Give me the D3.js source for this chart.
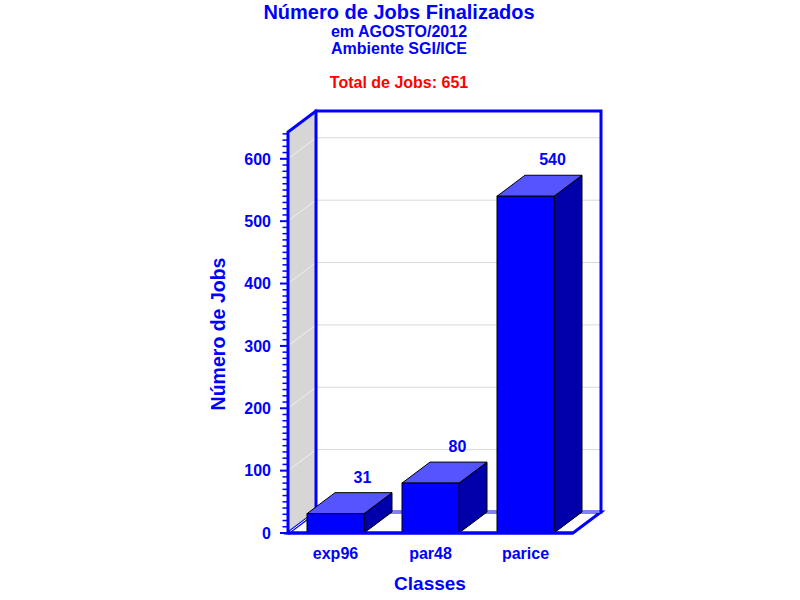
<!DOCTYPE html>
<html><head><meta charset="utf-8">
<script src="https://cdn.jsdelivr.net/npm/d3@7"></script>
<style>body{margin:0;background:#fff}svg{display:block}text{font-family:"Liberation Sans",Arial,sans-serif;font-weight:bold}</style>
</head><body>
<script>
const categories = ["exp96", "par48", "parice"];
const values = [31, 80, 540];
const yTicks = [0, 100, 200, 300, 400, 500, 600];
const titleLines = ["Número de Jobs Finalizados", "em AGOSTO/2012", "Ambiente SGI/ICE"];
const totalLabel = "Total de Jobs: 651";
const xTitle = "Classes", yTitle = "Número de Jobs";

const W = 800, H = 600;
const pL = 288, pR = 573, pB = 533, pT = 132;
const dx = 28, dy = -21;
const blue = "#0000ff";

const svg = d3.select("body").append("svg").attr("width", W).attr("height", H);
const y = d3.scaleLinear().domain([0, 643]).range([pB, pT]);
const x = d3.scaleBand().domain(categories).range([pL, pR]).paddingInner(0.4).paddingOuter(0.2);

// left wall
svg.append("polygon").attr("points", [[pL,pB],[pL,pT],[pL+dx,pT+dy],[pL+dx,pB+dy]].join(" "))
  .attr("fill", "#d6d6d6");
// back wall
svg.append("rect").attr("x", pL+dx).attr("y", pT+dy).attr("width", pR-pL).attr("height", pB-pT).attr("fill", "#fff");
// gridlines
yTicks.filter(d => d > 0).forEach(d => {
  svg.append("line").attr("x1", pL+dx).attr("x2", pR+dx).attr("y1", y(d)+dy).attr("y2", y(d)+dy)
    .attr("stroke", "#d9d9d9").attr("stroke-width", 1);
  svg.append("line").attr("x1", pL).attr("x2", pL+dx).attr("y1", y(d)).attr("y2", y(d)+dy)
    .attr("stroke", "#f0f0f0").attr("stroke-width", 1);
});
// floor
const floorPts = [[pL,pB],[pR,pB],[pR+dx,pB+dy],[pL+dx,pB+dy]];
svg.append("polygon").attr("points", floorPts.join(" ")).attr("fill", "#fff")
  .attr("stroke", blue).attr("stroke-width", 3).attr("stroke-linejoin", "miter");
svg.append("line").attr("x1", pL+2).attr("y1", pB-1.5).attr("x2", pL+dx-1).attr("y2", pB+dy+0.5).attr("stroke", "#fff").attr("stroke-width", 1);
svg.append("line").attr("x1", pL+dx).attr("y1", pB+dy).attr("x2", pR+dx-1).attr("y2", pB+dy).attr("stroke", "#fff").attr("stroke-width", 1);

// frame thick lines
const frame = svg.append("g").attr("stroke", blue).attr("stroke-width", 3).attr("fill", "none").attr("stroke-linecap", "square");
frame.append("path").attr("d", `M${pL},${pB}V${pT}L${pL+dx},${pT+dy}H${pR+dx}V${pB+dy}`);
frame.append("line").attr("x1", pL+dx).attr("x2", pL+dx).attr("y1", pT+dy).attr("y2", pB+dy);

// bars
const barG = svg.append("g");
categories.forEach((c, i) => {
  const x0 = x(c), x1 = x(c) + x.bandwidth(), yt = y(values[i]), yb = y(0);
  barG.append("polygon").attr("points", [[x1,yb],[x1,yt],[x1+dx,yt+dy],[x1+dx,yb+dy]].join(" "))
    .attr("fill", "#0000aa").attr("stroke", "#000").attr("stroke-width", 1);
  barG.append("polygon").attr("points", [[x0,yt],[x1,yt],[x1+dx,yt+dy],[x0+dx,yt+dy]].join(" "))
    .attr("fill", "#5555ff").attr("stroke", "#000").attr("stroke-width", 1);
  barG.append("rect").attr("x", x0).attr("y", yt).attr("width", x.bandwidth()).attr("height", yb-yt)
    .attr("fill", blue).attr("stroke", "#000").attr("stroke-width", 1);
  svg.append("text").attr("x", x0 + x.bandwidth()/2 + dx - 1).attr("y", yt + dy - 10)
    .attr("text-anchor", "middle").attr("fill", blue).style("font-size", "16px")
    .text(values[i]);
});
// front floor edge redraw on top
svg.append("line").attr("x1", pL).attr("x2", pR).attr("y1", pB).attr("y2", pB).attr("stroke", blue).attr("stroke-width", 3);

// y axis ticks
const axisG = svg.append("g");
d3.range(0, 641, 10).forEach(v => {
  const major = v % 100 === 0;
  axisG.append("line").attr("x1", major ? 280 : 282.5).attr("x2", pL).attr("y1", y(v)).attr("y2", y(v))
    .attr("stroke", blue).attr("stroke-width", major ? 2 : 1.5);
});
yTicks.forEach(v => {
  axisG.append("text").attr("x", 271).attr("y", y(v) + 5.8).attr("text-anchor", "end")
    .attr("fill", blue).style("font-size", "16px").text(v);
});
// x labels
categories.forEach(c => {
  svg.append("text").attr("x", x(c) + x.bandwidth()/2).attr("y", 559).attr("text-anchor", "middle")
    .attr("fill", blue).style("font-size", "16px").text(c);
});
svg.append("text").attr("x", 430).attr("y", 590).attr("text-anchor", "middle").attr("fill", blue)
  .style("font-size", "19px").text(xTitle);
svg.append("text").attr("transform", "translate(225,334) rotate(-90)").attr("text-anchor", "middle").attr("fill", blue)
  .style("font-size", "19.5px").text(yTitle);

// titles
svg.append("text").attr("x", 399).attr("y", 19).attr("text-anchor", "middle").attr("fill", blue).style("font-size", "20px").text(titleLines[0]);
svg.append("text").attr("x", 399).attr("y", 37).attr("text-anchor", "middle").attr("fill", blue).style("font-size", "16px").text(titleLines[1]);
svg.append("text").attr("x", 399).attr("y", 54).attr("text-anchor", "middle").attr("fill", blue).style("font-size", "16px").text(titleLines[2]);
svg.append("text").attr("x", 399).attr("y", 88).attr("text-anchor", "middle").attr("fill", "#ff0000").style("font-size", "16px").text(totalLabel);
</script>
</body></html>
